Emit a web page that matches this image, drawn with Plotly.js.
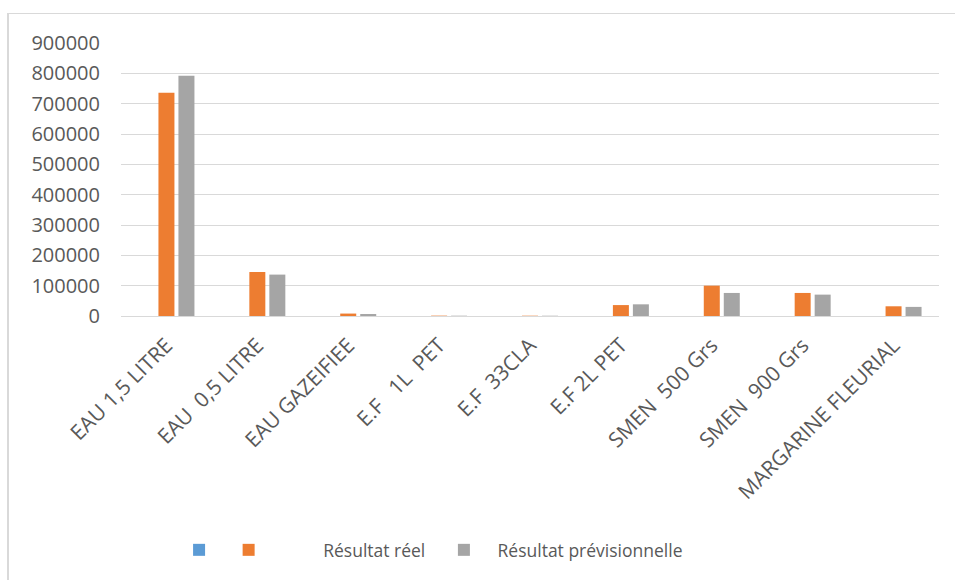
<!DOCTYPE html>
<html>
<head>
<meta charset="utf-8">
<script src="https://cdn.plot.ly/plotly-3.0.1.min.js"></script>
<style>
  html, body { margin: 0; padding: 0; background: #fff; overflow: hidden; }
  #wrap { position: relative; width: 955px; height: 580px; }
  #chart { position: absolute; left: 0; top: 0; width: 955px; height: 580px; }
  #frame { position: absolute; left: 7px; top: 13px; width: 1000px; height: 600px;
           border-left: 2px solid #d9d9d9; border-top: 1px solid #d9d9d9; pointer-events: none; }
</style>
</head>
<body>
<div id="wrap">
  <div id="chart"></div>
  <div id="frame"></div>
</div>
<script>
// Products
const categories = [
  "EAU 1,5 LITRE", "EAU  0,5 LITRE", "EAU GAZEIFIEE", "E.F   1L  PET", "E.F  33CLA",
  "E.F 2L PET", "SMEN  500 Grs", "SMEN  900 Grs", "MARGARINE FLEURIAL"
];

// Unnamed first series (empty)
const serieVide = [0, 0, 0, 0, 0, 0, 0, 0, 0];
// Résultat réel
const resultatReel = [736000, 145000, 8000, 1200, 1000, 36000, 100000, 76000, 32000];
// Résultat prévisionnelle
const resultatPrev = [792000, 136500, 6500, 1000, 900, 38500, 76000, 70500, 30000];

const yTicks = [0, 100000, 200000, 300000, 400000, 500000, 600000, 700000, 800000, 900000];

const nb = "\u00A0";
const font = "Open Sans, Noto Sans, sans-serif";
const textColor = "#595959";

const traces = [
  { type: "bar", x: categories, y: serieVide, name: nb,
    marker: { color: "#5B9BD5" } },
  { type: "bar", x: categories, y: resultatReel,
    name: nb.repeat(12) + "Résultat réel" + nb.repeat(3),
    marker: { color: "#ED7D31" } },
  { type: "bar", x: categories, y: resultatPrev, name: nb.repeat(3) + "Résultat prévisionnelle",
    marker: { color: "#A5A5A5" } }
];

const layout = {
  width: 955, height: 580,
  margin: { l: 121, r: 16, t: 43, b: 264 },
  paper_bgcolor: "rgba(0,0,0,0)",
  plot_bgcolor: "#fff",
  barmode: "group",
  bargap: 0.34,
  bargroupgap: 0.2,
  font: { family: font, color: textColor },
  showlegend: true,
  legend: {
    orientation: "h",
    x: 0.071, xanchor: "left",
    y: -0.857, yanchor: "middle",
    font: { family: font, size: 17.5, color: textColor },
    traceorder: "normal"
  },
  xaxis: {
    type: "category",
    tickangle: -45,
    tickfont: { family: font, size: 21, color: textColor },
    ticklabelstandoff: 12,
    showgrid: false,
    showline: false,
    ticks: ""
  },
  yaxis: {
    range: [0, 900000],
    tickvals: yTicks,
    ticktext: yTicks.map(String),
    tickfont: { family: font, size: 20, color: textColor },
    ticklabelstandoff: 20,
    showgrid: true,
    gridcolor: "#d9d9d9",
    gridwidth: 1,
    zeroline: true,
    zerolinecolor: "#d9d9d9",
    zerolinewidth: 1,
    showline: false,
    ticks: ""
  }
};

Plotly.newPlot("chart", traces, layout, { displayModeBar: false, staticPlot: true });
</script>
</body>
</html>
